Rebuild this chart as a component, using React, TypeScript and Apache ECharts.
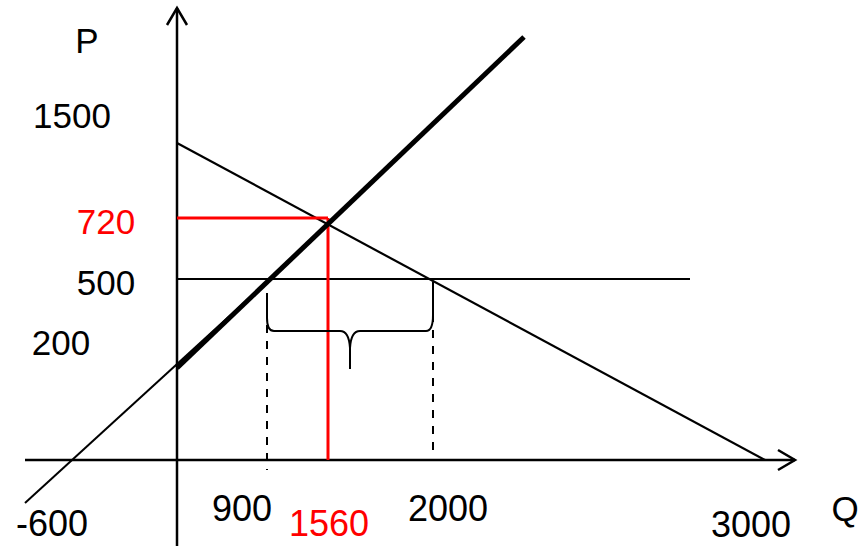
import React, { useEffect, useRef } from "react";
import * as echarts from "echarts";

// Diagram is schematic (not to scale): coordinates below are in diagram units
// (origin at the intersection of the P and Q axes).
const pAxisLine = [[0, -86], [0, 452]];
const pAxisArrow = [[-10, 435], [0, 452], [10, 435]];
const qAxisLine = [[-152, 0], [618, 0]];
const qAxisArrow = [[601, 10], [618, 0], [601, -10]];

const demandCurve = [[0, 317], [588, 0]];
const supplyCurveBold = [[0, 92], [347, 423]];
const supplyCurveThin = [[-152, -43], [93, 181]];
const floorPriceLine = [[0, 181], [513, 181]];
const eqPriceLine = [[0, 242], [151, 242]];
const eqQtyLine = [[151, 242], [151, 0]];
const qsDropLine = [[90, 167], [90, -10]];
const qdDropLine = [[256, 178], [256, 5]];

// Tick / axis labels
const qTickLabels = ["-600", "900", "1560", "2000", "3000"];
const pTickLabels = ["1500", "720", "500", "200"];
const axisNames = ["P", "Q"];

// anchor positions of the labels (diagram units)
const qTickAnchors = [[-125, -63], [65, -48], [152, -63], [271, -48], [574, -64]];
const qTickColors = ["#000", "#000", "#ff0000", "#000", "#000"];
const pTickAnchors = [[-105, 345], [-71, 239], [-71, 178], [-116, 118]];
const pTickColors = ["#000", "#ff0000", "#000", "#000"];
const axisNameAnchors = [[-90, 420], [668, -48]];

type Lbl = { text: string; x: number; y: number; color: string; size: number };

export default function App() {
  const ref = useRef<HTMLDivElement>(null);

  useEffect(() => {
    if (!ref.current) return;
    const chart = echarts.init(ref.current, null, { renderer: "svg" });

    const labels: Lbl[] = [];
    qTickLabels.forEach((t, i) =>
      labels.push({ text: t, x: qTickAnchors[i][0], y: qTickAnchors[i][1], color: qTickColors[i], size: 36 })
    );
    pTickLabels.forEach((t, i) =>
      labels.push({ text: t, x: pTickAnchors[i][0], y: pTickAnchors[i][1], color: pTickColors[i], size: 35 })
    );
    axisNames.forEach((t, i) =>
      labels.push({ text: t, x: axisNameAnchors[i][0], y: axisNameAnchors[i][1], color: "#000", size: 35 })
    );

    const line = (data: number[][], color: string, width: number, type: any = "solid") => ({
      type: "line",
      data,
      showSymbol: false,
      symbol: "none",
      silent: true,
      clip: false,
      lineStyle: { color, width, type, cap: "butt", join: "miter" },
      z: 2,
    });

    const font = "'Liberation Sans', Arial, Helvetica, sans-serif";

    chart.setOption({
      animation: false,
      backgroundColor: "#ffffff",
      grid: { left: 0, right: 0, top: 0, bottom: 0 },
      xAxis: { type: "value", min: -177, max: 685, show: false },
      yAxis: { type: "value", min: -86, max: 460, show: false },
      series: [
        line(pAxisLine, "#000", 2.5),
        line(pAxisArrow, "#000", 2.5),
        line(qAxisLine, "#000", 2.5),
        line(qAxisArrow, "#000", 2.5),
        line(floorPriceLine, "#000", 2.2),
        line(demandCurve, "#000", 2.2),
        line(supplyCurveThin, "#000", 2),
        line(qsDropLine, "#000", 2, [8, 8]),
        line(qdDropLine, "#000", 2, [8, 8]),
        line(eqPriceLine, "#ff0000", 3),
        line(eqQtyLine, "#ff0000", 3),
        line(supplyCurveBold, "#000", 5),
        {
          type: "custom",
          silent: true,
          data: [[0, 0]],
          z: 3,
          renderItem: (_params: any, api: any) => {
            const c = (x: number, y: number) => {
              const p = api.coord([x, y]);
              return `${p[0]} ${p[1]}`;
            };
            const d =
              `M ${c(90, 167)} L ${c(90, 142)} Q ${c(90, 129)} ${c(97, 129)} ` +
              `L ${c(163, 129)} Q ${c(172, 129)} ${c(173, 112)} L ${c(173, 91)} ` +
              `M ${c(173, 112)} Q ${c(174, 129)} ${c(183, 129)} ` +
              `L ${c(249, 129)} Q ${c(256, 129)} ${c(256, 145)} L ${c(256, 178)}`;
            return {
              type: "path",
              shape: { pathData: d },
              style: { stroke: "#000", lineWidth: 2, fill: "none" },
            };
          },
        },
        {
          type: "custom",
          silent: true,
          data: labels.map((l) => [l.x, l.y]),
          z: 4,
          renderItem: (params: any, api: any) => {
            const l = labels[params.dataIndex];
            const p = api.coord([api.value(0), api.value(1)]);
            return {
              type: "text",
              x: p[0],
              y: p[1],
              style: {
                text: l.text,
                fill: l.color,
                font: `${l.size}px ${font}`,
                align: "center",
                verticalAlign: "middle",
              },
            };
          },
        },
      ],
    });

    return () => chart.dispose();
  }, []);

  return (
    <div
      ref={ref}
      style={{ position: "fixed", left: 0, top: 0, width: 862, height: 546, background: "#fff" }}
    />
  );
}
